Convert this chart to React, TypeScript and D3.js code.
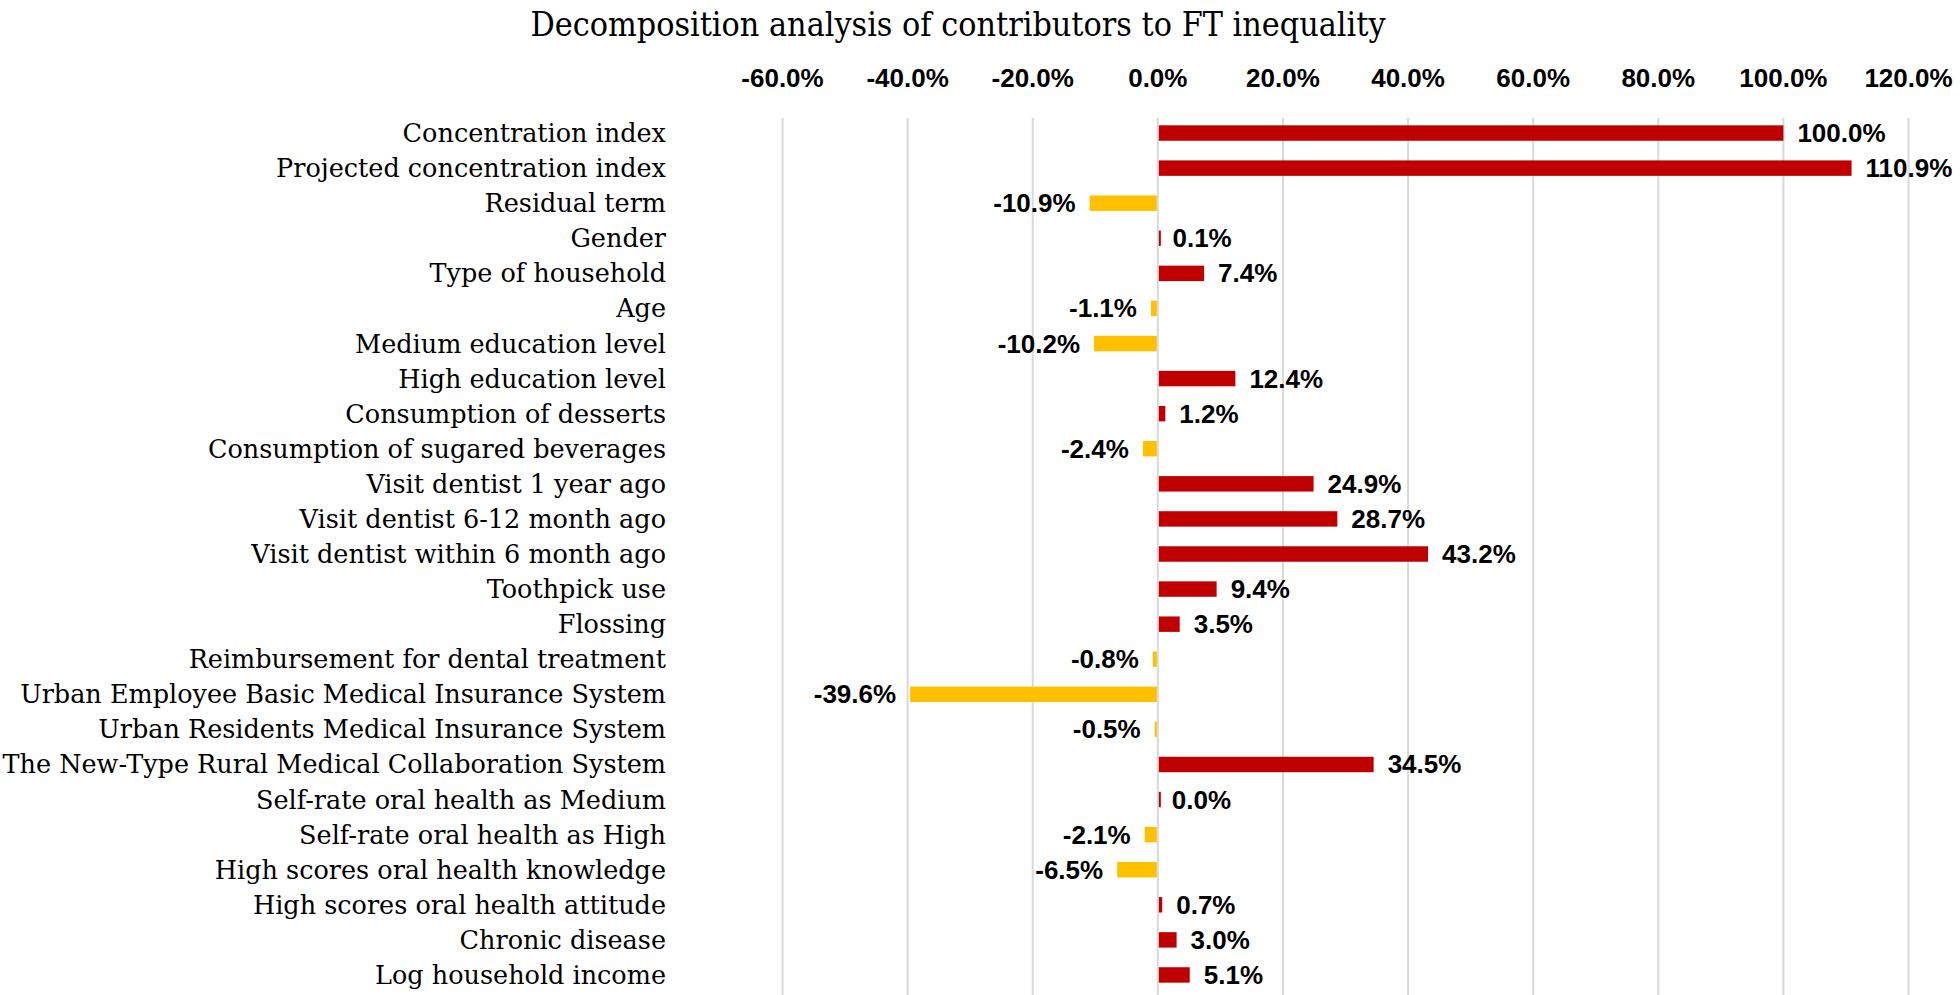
import React from "react";
import * as d3 from "d3";

const title = "Decomposition analysis of contributors to FT inequality";
const categories = [
  "Concentration index",
  "Projected concentration index",
  "Residual term",
  "Gender",
  "Type of household",
  "Age",
  "Medium education level",
  "High education level",
  "Consumption of desserts ",
  "Consumption of sugared beverages",
  "Visit dentist 1 year ago",
  "Visit dentist 6-12 month ago",
  "Visit dentist within 6 month ago",
  "Toothpick use",
  "Flossing",
  "Reimbursement for dental treatment",
  "Urban Employee Basic Medical Insurance System",
  "Urban Residents Medical Insurance System",
  "The New-Type Rural Medical Collaboration System",
  "Self-rate oral health as Medium",
  "Self-rate oral health as High",
  "High scores oral health knowledge ",
  "High scores oral health attitude ",
  "Chronic disease",
  "Log household income",
];
const values = [
  100.0, 110.9, -10.9, 0.1, 7.4, -1.1, -10.2, 12.4, 1.2, -2.4, 24.9, 28.7, 43.2,
  9.4, 3.5, -0.8, -39.6, -0.5, 34.5, 0.0, -2.1, -6.5, 0.7, 3.0, 5.1,
];
const ticks = [-60, -40, -20, 0, 20, 40, 60, 80, 100, 120];

const W = 1960;
const H = 995;
const X0 = 782.5;
const X1 = 1908.5;
const Y0 = 115.5;
const Y1 = 992.5;

const labelFont = "'DejaVu Serif', 'Liberation Serif', serif";
const numFont = "'Liberation Sans', Arial, sans-serif";

const fmt = (v: number) => v.toFixed(1) + "%";

export default function App() {
  const x = d3.scaleLinear().domain([-60, 120]).range([X0, X1]);
  const y = d3.scaleBand<string>().domain(categories).range([Y0, Y1]).paddingInner(0.56).paddingOuter(0.28);
  const bh = y.bandwidth();
  return (
    <svg width={W} height={H} style={{ position: "absolute", left: 0, top: 0, background: "#fff" }}>
      <rect width={W} height={H} fill="#fff" />
      <text x={958} y={36} textAnchor="middle" fontFamily={labelFont} fontSize={33} fill="#000"
        transform="translate(958,0) scale(0.92,1) translate(-958,0)">
        {title}
      </text>
      {ticks.map((t) => (
        <g key={t}>
          <line x1={x(t)} x2={x(t)} y1={118} y2={H} stroke="#d9d9d9" strokeWidth={2} />
          <text x={x(t)} y={87} textAnchor="middle" fontFamily={numFont} fontWeight="bold" fontSize={26} fill="#000">
            {fmt(t)}
          </text>
        </g>
      ))}
      {categories.map((c, i) => {
        const v = values[i];
        const yc = (y(c) as number) + bh / 2;
        const xa = x(Math.min(0, v));
        const xb = x(Math.max(0, v));
        const neg = v < 0;
        const col = neg ? "#FFC000" : "#C00000";
        return (
          <g key={c}>
            <rect x={neg ? xa : xa + 1} y={y(c)} width={Math.max(2, xb - xa - 1)} height={bh}
              fill={col} />
            <text x={666} y={yc + 9} textAnchor="end" fontFamily={labelFont} fontSize={25.5} fill="#000">
              {c}
            </text>
            <text x={neg ? xa - 14 : xb + 14} y={yc + 9} textAnchor={neg ? "end" : "start"}
              fontFamily={numFont} fontWeight="bold" fontSize={26} fill="#000">
              {fmt(v)}
            </text>
          </g>
        );
      })}
    </svg>
  );
}
